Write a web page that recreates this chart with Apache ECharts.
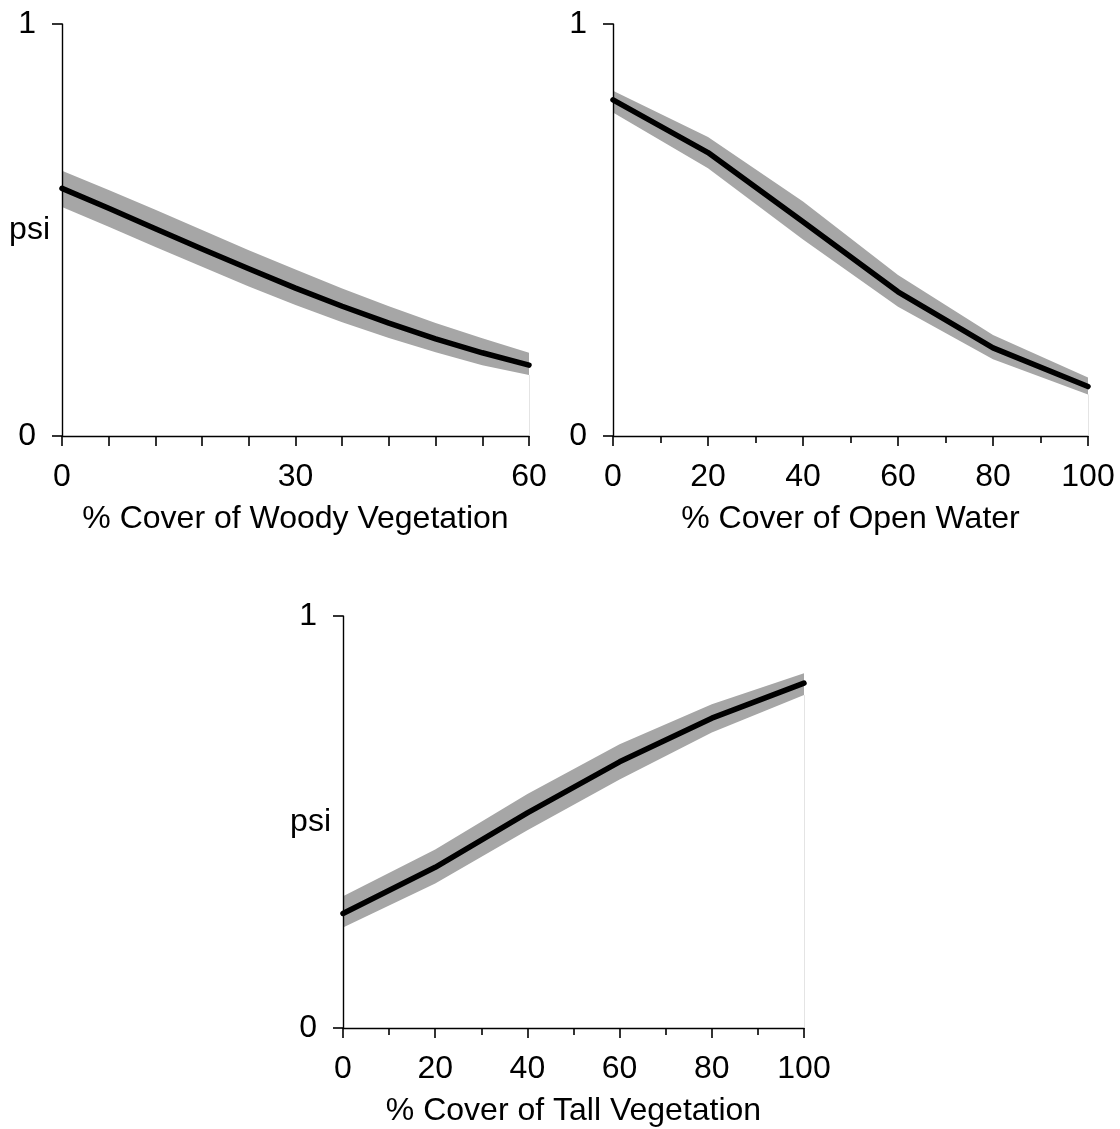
<!DOCTYPE html>
<html>
<head>
<meta charset="utf-8">
<title>psi vs habitat cover</title>
<script src="https://cdn.jsdelivr.net/npm/echarts@6/dist/echarts.min.js"></script>
<style>
  html, body { margin: 0; padding: 0; background: #fff; }
  #chart { width: 1120px; height: 1129px; }
</style>
</head>
<body>
<div id="chart"></div>
<script>
// Woody vegetation cover (%) and estimated psi with its confidence band
const woodyCover = [0, 6, 12, 18, 24, 30, 36, 42, 48, 54, 60];
const woodyPsi   = [0.601, 0.553, 0.503, 0.454, 0.406, 0.359, 0.315, 0.274, 0.236, 0.202, 0.172];
const woodyUpper = [0.644, 0.597, 0.549, 0.500, 0.451, 0.404, 0.358, 0.315, 0.274, 0.237, 0.202];
const woodyLower = [0.556, 0.508, 0.459, 0.411, 0.363, 0.318, 0.276, 0.238, 0.203, 0.172, 0.148];

// Open water cover (%)
const waterCover = [0, 20, 40, 60, 80, 100];
const waterPsi   = [0.816, 0.688, 0.520, 0.350, 0.214, 0.120];
const waterUpper = [0.838, 0.726, 0.569, 0.391, 0.245, 0.142];
const waterLower = [0.785, 0.650, 0.477, 0.314, 0.186, 0.101];

// Tall vegetation cover (%)
const tallCover = [0, 20, 40, 60, 80, 100];
const tallPsi   = [0.278, 0.390, 0.522, 0.646, 0.752, 0.837];
const tallUpper = [0.320, 0.433, 0.568, 0.689, 0.786, 0.861];
const tallLower = [0.244, 0.351, 0.480, 0.603, 0.717, 0.808];

// Axis titles and tick settings
const xTitles = ['% Cover of Woody Vegetation', '% Cover of Open Water', '% Cover of Tall Vegetation'];
const yTitles = ['psi', '', 'psi'];
const xMax = [60, 100, 100];
const xTickStep = [6, 20, 20];
const xLabelStep = [30, 20, 20];

const FONT = "'Liberation Sans', Arial, Helvetica, sans-serif";
const FS = 32;
const BAND = '#a6a6a6';

const panels = [
  { xs: woodyCover, mid: woodyPsi, hi: woodyUpper, lo: woodyLower },
  { xs: waterCover, mid: waterPsi, hi: waterUpper, lo: waterLower },
  { xs: tallCover,  mid: tallPsi,  hi: tallUpper,  lo: tallLower }
];

const grids = [
  { left: 62,  top: 24,  width: 467, height: 412 },
  { left: 613, top: 24,  width: 475, height: 412 },
  { left: 343, top: 616, width: 461, height: 412 }
].map(g => Object.assign({ containLabel: false, outerBoundsMode: 'none' }, g));

const axisLine = { show: true, lineStyle: { color: '#000', width: 1.4 } };

const xAxes = grids.map((g, i) => ({
  type: 'value',
  gridIndex: i,
  min: 0,
  max: xMax[i],
  interval: xTickStep[i],
  z: 10,
  axisLine: axisLine,
  axisTick: { show: true, length: 10, lineStyle: { color: '#000', width: 1.6 } },
  minorTick: { show: i > 0, splitNumber: 2, length: 7, lineStyle: { color: '#000', width: 1.6 } },
  splitLine: { show: false },
  axisLabel: {
    margin: 25,
    fontSize: FS,
    fontFamily: FONT,
    color: '#000',
    formatter: v => (v % xLabelStep[i] === 0 ? String(v) : '')
  },
  name: xTitles[i],
  nameLocation: 'middle',
  nameGap: 67,
  nameMoveOverlap: false,
  nameTextStyle: { fontSize: FS, fontFamily: FONT, color: '#000' }
}));

const yAxes = grids.map((g, i) => ({
  type: 'value',
  gridIndex: i,
  min: 0,
  max: 1,
  interval: 1,
  z: 10,
  axisLine: axisLine,
  axisTick: { show: true, length: 10, lineStyle: { color: '#000', width: 1.6 } },
  splitLine: { show: false },
  axisLabel: { margin: 26, fontSize: FS, fontFamily: FONT, color: '#000' },
  name: yTitles[i],
  nameLocation: 'middle',
  nameRotate: 0,
  nameGap: 12,
  nameMoveOverlap: false,
  nameTextStyle: { fontSize: FS, fontFamily: FONT, color: '#000' }
}));

const series = [];
panels.forEach((p, i) => {
  const n = p.xs.length;
  const last = p.xs[n - 1];
  // upper edge of the band, filled grey down to the x axis
  series.push({
    type: 'line',
    xAxisIndex: i, yAxisIndex: i,
    data: p.xs.map((x, k) => [x, p.hi[k]]),
    symbol: 'none',
    silent: true,
    lineStyle: { width: 0, opacity: 0 },
    areaStyle: { color: BAND, opacity: 1 },
    z: 1
  });
  // lower edge of the band, filled white to clear the area beneath it
  series.push({
    type: 'line',
    xAxisIndex: i, yAxisIndex: i,
    data: p.xs.map((x, k) => [x, p.lo[k]]),
    symbol: 'none',
    silent: true,
    lineStyle: { width: 0, opacity: 0 },
    areaStyle: { color: '#fff', opacity: 1 },
    z: 2
  });
  // estimated psi
  series.push({
    type: 'line',
    xAxisIndex: i, yAxisIndex: i,
    data: p.xs.map((x, k) => [x, p.mid[k]]),
    symbol: 'none',
    silent: true,
    lineStyle: { color: '#000', width: 5.5, cap: 'round', join: 'round' },
    z: 3,
    markLine: {
      silent: true,
      symbol: 'none',
      label: { show: false },
      lineStyle: { color: '#e4e4e4', width: 1, type: 'solid' },
      data: [[{ coord: [last, 0] }, { coord: [last, p.lo[n - 1]] }]]
    }
  });
});

const chart = echarts.init(document.getElementById('chart'), null, { renderer: 'canvas' });
chart.setOption({
  animation: false,
  backgroundColor: '#fff',
  grid: grids,
  xAxis: xAxes,
  yAxis: yAxes,
  series: series
});
</script>
</body>
</html>
